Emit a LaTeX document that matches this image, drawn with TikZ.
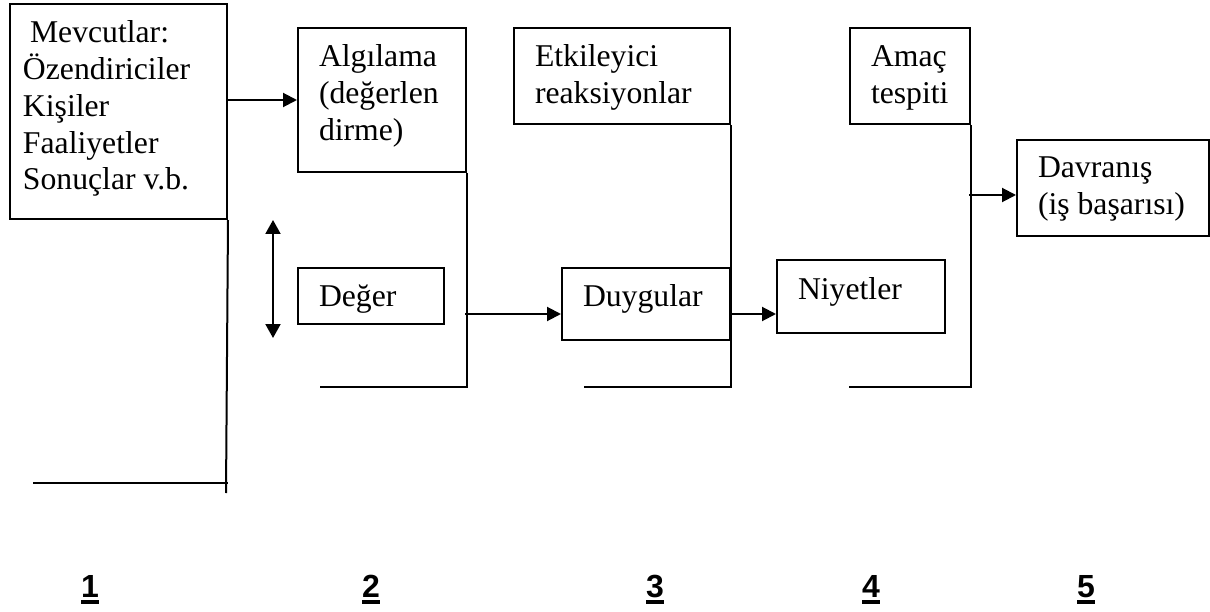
\documentclass[tikz,border=0pt]{standalone}
\usepackage{fontspec}
\setmainfont{Liberation Serif}
\newfontfamily\numfont{Liberation Sans}
\usetikzlibrary{arrows.meta}
\newcommand\mylines[1]{\begin{tabular}[t]{@{}l@{}}#1\end{tabular}}
\newcommand\thul[1]{\setbox0\hbox{#1}\rlap{\rule[-6.5pt]{\wd0}{3.5pt}}\box0}
\begin{document}
\begin{tikzpicture}[x=1pt,y=-1pt,line width=2pt,
  box/.style={draw,rectangle,inner sep=0pt,anchor=north west},
  txt/.style={anchor=base west,inner sep=0pt,font=\fontsize{31.7}{36.7}\selectfont},
  num/.style={anchor=base west,inner sep=0pt,font=\numfont\bfseries\fontsize{32}{36}\selectfont},
  arr/.style={-{Triangle[length=14pt,width=14pt]}},
  arrtwo/.style={{Triangle[length=14pt,width=15pt]}-{Triangle[length=14pt,width=15pt]}}]
\useasboundingbox (0,0) rectangle (1210,612);
% boxes
\node[box,minimum width=217pt,minimum height=215pt] (mev) at (9,3) {};
\node[box,minimum width=168pt,minimum height=144pt] (alg) at (297,27) {};
\node[box,minimum width=146pt,minimum height=56pt] (deg) at (297,267) {};
\node[box,minimum width=216pt,minimum height=96pt] (etk) at (513,27) {};
\node[box,minimum width=168pt,minimum height=72pt] (duy) at (561,267) {};
\node[box,minimum width=168pt,minimum height=73pt] (niy) at (776,259) {};
\node[box,minimum width=120pt,minimum height=96pt] (ama) at (849,27) {};
\node[box,minimum width=192pt,minimum height=96pt] (dav) at (1016,139) {};
% texts
\node[txt] (mevT) at (22,43) {\mylines{\hspace{7pt}Mevcutlar:\\Özendiriciler\\Kişiler\\Faaliyetler\\Sonuçlar v.b.}};
\node[txt] (algT) at (318,67) {\mylines{Algılama\\(değerlen\\dirme)}};
\node[txt] (degT) at (318,307) {Değer};
\node[txt] (etkT) at (534,67) {\mylines{Etkileyici\\reaksiyonlar}};
\node[txt] (duyT) at (582,307) {Duygular};
\node[txt] (niyT) at (797,300) {Niyetler};
\node[txt] (amaT) at (870,67) {\mylines{Amaç\\tespiti}};
\node[txt] (davT) at (1037,178) {\mylines{Davranış\\(iş başarısı)}};
% coordinates
\coordinate (c1) at (33,483);
\coordinate (c1e) at (226,493);
\coordinate (c2) at (320,387);
\coordinate (c3) at (584,387);
\coordinate (c4) at (849,387);
\coordinate (a2) at (465,314);
\coordinate (a3) at (729,314);
\coordinate (a4) at (969,195);
\coordinate (d1) at (273,220);
\coordinate (d2) at (273,338);
% connectors
\draw[arr] (mev.east |- alg.west) -- (alg.west);
\draw (mev.south east) -- (c1e);
\draw (c1) -- (c1 -| mev.east);
\draw (alg.south east) |- (c2);
\draw[arr] (a2) -- (a2 -| duy.west);
\draw (etk.south east) |- (c3);
\draw[arr] (a3) -- (a3 -| niy.west);
\draw (ama.south east) |- (c4);
\draw[arr] (a4) -- (a4 -| dav.west);
\draw[arrtwo] (d1) -- (d2);
% numbers
\node[num] (n1) at (80,597) {\thul{1}};
\node[num] (n2) at (361,597) {\thul{2}};
\node[num] (n3) at (645,597) {\thul{3}};
\node[num] (n4) at (861,597) {\thul{4}};
\node[num] (n5) at (1076,597) {\thul{5}};
\end{tikzpicture}
\end{document}
